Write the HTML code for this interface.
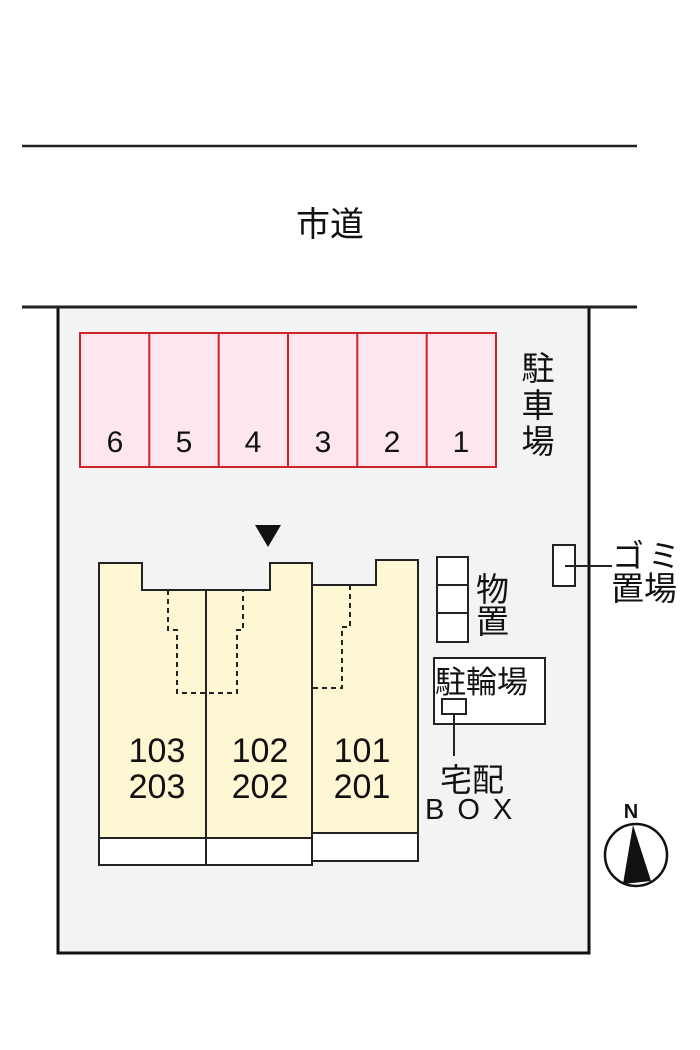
<!DOCTYPE html>
<html><head><meta charset="utf-8"><style>html,body{margin:0;padding:0;background:#fff;}svg{display:block}</style></head>
<body>
<svg width="700" height="1050" viewBox="0 0 700 1050" xmlns="http://www.w3.org/2000/svg" font-family="'Liberation Sans','Noto Sans CJK JP',sans-serif">
<rect width="700" height="1050" fill="#fff"/>
<line x1="22" y1="146" x2="637" y2="146" stroke="#222" stroke-width="2.5"/>
<text x="330" y="236" font-size="34" text-anchor="middle" fill="#111">市道</text>
<rect x="58" y="307" width="531" height="646" fill="#f3f3f3" stroke="#111" stroke-width="3"/>
<line x1="22" y1="307" x2="637" y2="307" stroke="#222" stroke-width="3"/>
<g stroke="#d0202a" stroke-width="2" fill="#fde6ee">
<rect x="80" y="333" width="416" height="134"/>
<line x1="149.3" y1="333" x2="149.3" y2="467"/><line x1="218.7" y1="333" x2="218.7" y2="467"/><line x1="288" y1="333" x2="288" y2="467"/><line x1="357.3" y1="333" x2="357.3" y2="467"/><line x1="426.7" y1="333" x2="426.7" y2="467"/>
</g>
<g font-size="30" text-anchor="middle" fill="#111">
<text x="115" y="452">6</text><text x="184" y="452">5</text><text x="253" y="452">4</text><text x="323" y="452">3</text><text x="392" y="452">2</text><text x="461" y="452">1</text>
</g>
<g font-size="33" text-anchor="middle" fill="#111"><text x="538" y="380">駐</text><text x="538" y="417">車</text><text x="538" y="453">場</text></g>
<polygon points="255,525 281,525 268,547" fill="#111"/>
<g stroke="#222" stroke-width="2">
<path d="M99,563 H142 V590 H270 V563 H312 V838 H99 Z" fill="#fdf8d3"/>
<line x1="206" y1="590" x2="206" y2="838"/>
<rect x="99" y="838" width="107" height="27" fill="#fff"/><rect x="206" y="838" width="106" height="27" fill="#fff"/>
<path d="M312,585 H376 V560 H418 V833 H312 Z" fill="#fdf8d3"/>
<rect x="312" y="833" width="106" height="28" fill="#fff"/>
</g>
<g stroke="#222" stroke-width="2" stroke-dasharray="5,4" fill="none">
<path d="M168,590 V630 H177 V693 H237 V630 H243 V590"/>
<path d="M350,585 V627 H342 V688 H312"/>
</g>
<g font-size="34" text-anchor="middle" fill="#111">
<text x="157" y="762">103</text><text x="157" y="798">203</text>
<text x="260" y="762">102</text><text x="260" y="798">202</text>
<text x="362" y="762">101</text><text x="362" y="798">201</text>
</g>
<g stroke="#222" stroke-width="2" fill="#fff">
<rect x="437" y="557" width="31" height="85"/><line x1="437" y1="585" x2="468" y2="585"/><line x1="437" y1="613" x2="468" y2="613"/>
<rect x="434" y="658" width="111" height="66"/>
<rect x="442" y="699" width="24" height="15"/>
<rect x="553" y="545" width="22" height="41"/>
</g>
<line x1="454" y1="714" x2="454" y2="756" stroke="#222" stroke-width="2"/>
<line x1="565" y1="566" x2="612" y2="566" stroke="#222" stroke-width="2"/>
<g font-size="33" fill="#111"><text x="476" y="601">物</text><text x="476" y="633">置</text></g>
<text x="435" y="693" font-size="31" fill="#111">駐輪場</text>
<text x="472" y="791" font-size="32" text-anchor="middle" fill="#111">宅配</text>
<text x="425" y="819" font-size="29" fill="#111" letter-spacing="13">BOX</text>
<text x="612" y="567" font-size="32" fill="#111" letter-spacing="4">ゴミ</text>
<text x="611" y="600" font-size="33" fill="#111">置場</text>
<text x="631" y="818" font-size="20" text-anchor="middle" font-weight="bold" fill="#111">N</text>
<circle cx="636" cy="855" r="31" fill="#fff" stroke="#111" stroke-width="2.5"/>
<polygon points="633,825 623,884 651,881" fill="#111"/>
</svg>
</body></html>
